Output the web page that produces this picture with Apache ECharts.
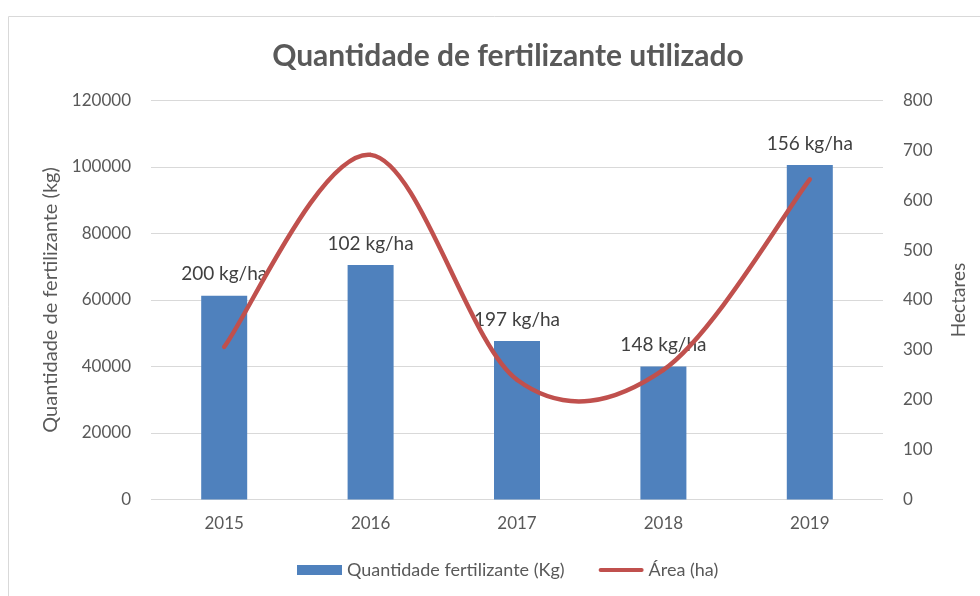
<!DOCTYPE html>
<html>
<head>
<meta charset="utf-8">
<title>Quantidade de fertilizante utilizado</title>
<script src="https://cdn.jsdelivr.net/npm/echarts@6/dist/echarts.min.js"></script>
<style>
  html, body { margin: 0; padding: 0; background: #fff; }
  #chart { width: 980px; height: 596px; }
</style>
</head>
<body>
<div id="chart"></div>
<script>
var anos = ["2015", "2016", "2017", "2018", "2019"];
var quantidade = [61300, 70500, 47700, 40000, 100600];
var area = [306, 691, 240, 260, 642];
var rotulos = ["200 kg/ha", "102 kg/ha", "197 kg/ha", "148 kg/ha", "156 kg/ha"];

var fonte = "Lato, 'Open Sans', sans-serif";
var cinza = "#595959";
var vermelho = "#c0504d";

var chart = echarts.init(document.getElementById("chart"));

// curva suavizada tipo Excel (catmull-rom) entre os pontos da área
function renderCurva(params, api) {
  var i = params.dataIndex;
  if (i >= area.length - 1) return null;
  function pt(j) {
    j = Math.max(0, Math.min(area.length - 1, j));
    return api.coord([j, area[j]]);
  }
  var p0 = pt(i - 1), p1 = pt(i), p2 = pt(i + 1), p3 = pt(i + 2);
  return {
    type: "bezierCurve",
    shape: {
      x1: p1[0], y1: p1[1],
      x2: p2[0], y2: p2[1],
      cpx1: p1[0] + (p2[0] - p0[0]) / 6,
      cpy1: p1[1] + (p2[1] - p0[1]) / 6,
      cpx2: p2[0] - (p3[0] - p1[0]) / 6,
      cpy2: p2[1] - (p3[1] - p1[1]) / 6,
    },
    style: { fill: null, stroke: vermelho, lineWidth: 4.5, lineCap: "round" },
  };
}

var option = {
  animation: false,
  textStyle: { fontFamily: fonte },
  title: {
    text: "Quantidade de fertilizante utilizado",
    left: 503,
    textAlign: "center",
    top: 36,
    textStyle: { fontFamily: fonte, fontSize: 30, fontWeight: "bold", color: cinza },
  },
  graphic: [
    {
      type: "rect",
      shape: { x: 8.5, y: 16.5, width: 1000, height: 700 },
      style: { fill: "none", stroke: "#d9d9d9", lineWidth: 1 },
      silent: true,
    },
  ],
  legend: {
    bottom: 12,
    left: 292,
    itemGap: 34,
    itemWidth: 45,
    itemHeight: 10,
    textStyle: { fontFamily: fonte, fontSize: 18, color: cinza },
    data: [
      { name: "Quantidade fertilizante (Kg)", icon: "rect" },
      {
        name: "Área (ha)",
        icon: "path://M2,0 L43,0 A2,2 0 0 1 43,4 L2,4 A2,2 0 0 1 2,0 Z",
        itemStyle: { color: vermelho },
      },
    ],
  },
  grid: { left: 151, right: 97, top: 100.5, bottom: 96.5 },
  xAxis: {
    type: "category",
    data: anos,
    axisLine: { show: false },
    axisTick: { show: false },
    axisLabel: { color: cinza, fontSize: 17, margin: 16, fontFamily: fonte },
  },
  yAxis: [
    {
      type: "value",
      min: 0,
      max: 120000,
      interval: 20000,
      name: "Quantidade de fertilizante (kg)",
      nameLocation: "middle",
      nameGap: 89,
      nameTextStyle: { color: cinza, fontSize: 20, fontFamily: fonte },
      axisLabel: {
        color: cinza, fontSize: 17, margin: 20, fontFamily: fonte,
        formatter: function (v) { return String(v); },
      },
      splitLine: { lineStyle: { color: "#d9d9d9", width: 1 } },
    },
    {
      type: "value",
      min: 0,
      max: 800,
      interval: 100,
      name: "Hectares",
      nameLocation: "middle",
      nameGap: 66,
      nameTextStyle: { color: cinza, fontSize: 19, fontFamily: fonte },
      axisLabel: { color: cinza, fontSize: 17, margin: 20, fontFamily: fonte },
      splitLine: { show: false },
    },
  ],
  series: [
    {
      name: "Quantidade fertilizante (Kg)",
      type: "bar",
      barWidth: 46,
      yAxisIndex: 0,
      itemStyle: { color: "#4f81bd" },
      data: quantidade,
      label: {
        show: true,
        position: "top",
        distance: 12,
        color: "#404040",
        fontSize: 19,
        fontFamily: fonte,
        formatter: function (p) {
          return rotulos[p.dataIndex];
        },
      },
      z: 2,
    },
    {
      name: "Área (ha)",
      type: "custom",
      yAxisIndex: 1,
      itemStyle: { color: vermelho },
      renderItem: renderCurva,
      data: area.map(function (v, i) { return [i, v]; }),
      encode: { x: 0, y: 1 },
      z: 3,
    },
  ],
};

chart.setOption(option);
</script>
</body>
</html>
